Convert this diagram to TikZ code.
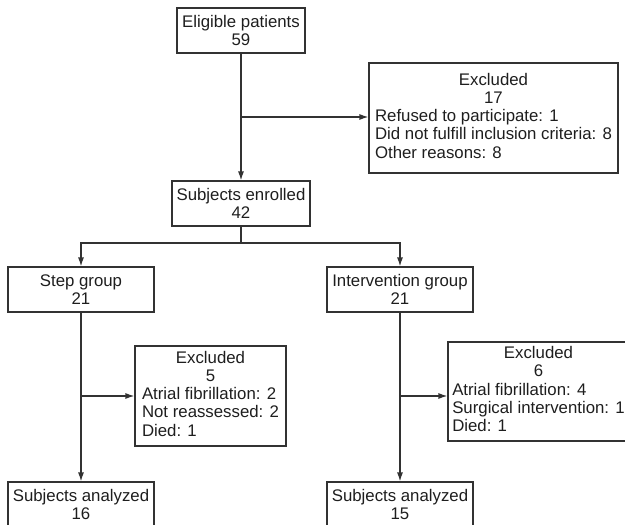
\documentclass[tikz,border=0pt]{standalone}
\usepackage{fontspec}
\setmainfont{Liberation Sans}
\usetikzlibrary{arrows.meta}
\definecolor{line-grey}{RGB}{50,50,50}
\definecolor{text-grey}{RGB}{30,30,30}

\newcommand{\exhead}[1]{\multicolumn{1}{@{}c@{}}{#1}}

\begin{document}
\begin{tikzpicture}[
  x=1pt, y=-1pt,
  >={Latex[length=9pt,width=6pt]},
  box/.style={draw=line-grey, line width=1.2pt, inner sep=0pt,
              minimum height=45pt, align=center, text=text-grey,
              font=\fontsize{16.8}{18.2}\selectfont},
  excl/.style={box},
  arrow/.style={->, draw=line-grey, line width=1.2pt},
]
\useasboundingbox (0,0) rectangle (625,525);
\clip (0,0) rectangle (625,525);

\node[box, minimum width=128pt]  (elig)  at (241,30.5)   {Eligible patients\\59};
\node[box, minimum width=138pt]  (enrol) at (241,203.5)  {Subjects enrolled\\42};
\node[box, minimum width=146pt]  (step)  at (81,289.5)   {Step group\\21};
\node[box, minimum width=146pt]  (inter) at (400,289.5)  {Intervention group\\21};
\node[box, minimum width=146pt]  (an1)   at (81,504.5)   {Subjects analyzed\\16};
\node[box, minimum width=146pt]  (an2)   at (400,504.5)  {Subjects analyzed\\15};

\node[excl, minimum width=249pt, minimum height=110pt] (ex1) at (493.5,118)
  {\begin{tabular}{@{}l@{}}\exhead{Excluded}\\\exhead{17}\\
   Refused to participate: 1\\Did not fulfill inclusion criteria: 8\\
   Other reasons: 8\end{tabular}};
\node[excl, minimum width=151pt, minimum height=100pt] (ex2) at (210.5,396)
  {\begin{tabular}{@{}l@{}}\exhead{Excluded}\\\exhead{5}\\
   Atrial fibrillation: 2\\Not reassessed: 2\\Died: 1\end{tabular}};
\node[excl, minimum width=181pt, minimum height=99pt] (ex3) at (538.5,391.5)
  {\begin{tabular}{@{}l@{}}\exhead{Excluded}\\\exhead{6}\\
   Atrial fibrillation: 4\\Surgical intervention: 1\\Died: 1\end{tabular}};

\coordinate (split) at (241,243);
\coordinate (j1) at (241,117);
\coordinate (j2) at (81,396);
\coordinate (j3) at (400,396);

\draw[arrow] (elig) -- (enrol);
\draw[arrow] (j1) -- (j1 -| ex1.west);
\draw[line-grey, line width=1.2pt] (enrol) -- (split);
\foreach \g in {step, inter}
  \draw[arrow] (split) -| (\g);
\foreach \a/\b in {step/an1, inter/an2}
  \draw[arrow] (\a) -- (\b);
\draw[arrow] (j2) -- (j2 -| ex2.west);
\draw[arrow] (j3) -- (j3 -| ex3.west);
\end{tikzpicture}
\end{document}
